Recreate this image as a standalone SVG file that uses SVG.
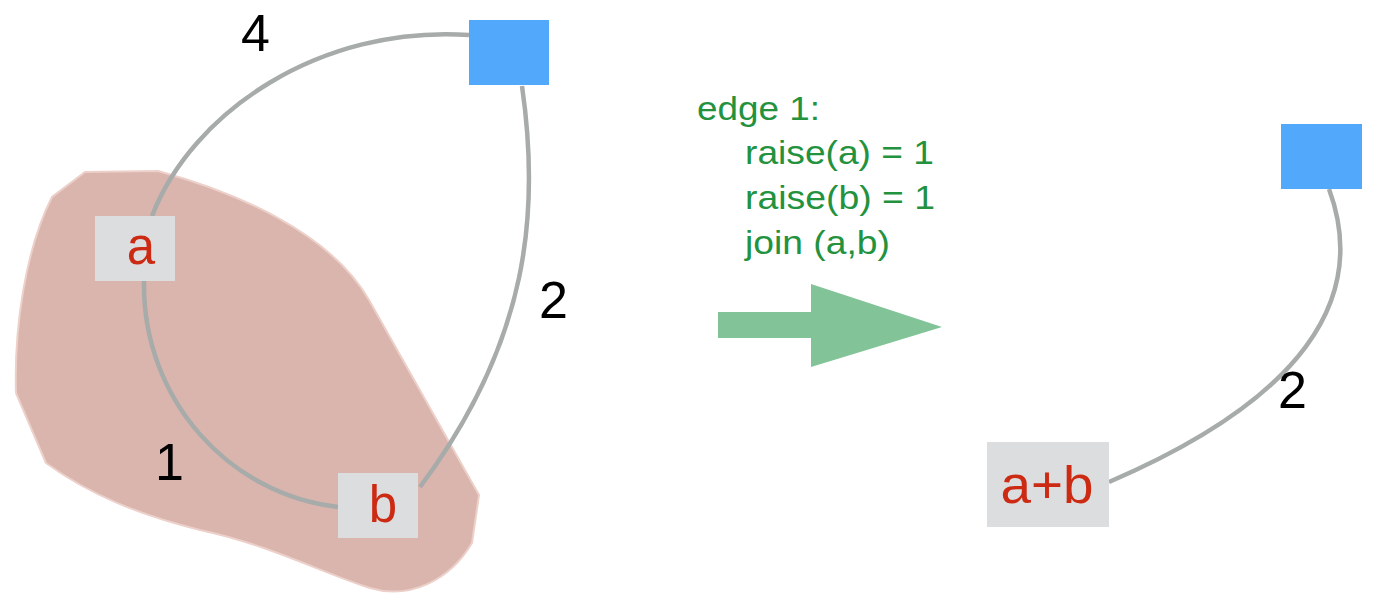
<svg xmlns="http://www.w3.org/2000/svg" width="1375" height="595" viewBox="0 0 1375 595">
<style>
.edge{fill:none;stroke:#a7abaa;stroke-width:4.5;stroke-linecap:butt}
.box{fill:#dcdddf}
.sq{fill:#52a8fa}
.lbl{font-family:"Liberation Sans",Arial,sans-serif;font-size:51px;fill:#cc2a12;text-anchor:middle}
.num{font-family:"Liberation Sans",Arial,sans-serif;font-size:52px;fill:#000}
.code{font-family:"Liberation Sans",Arial,sans-serif;font-size:33px;fill:#23923e}
</style>
<rect width="1375" height="595" fill="#fff"/>
<g id="region">
<path d="M85,172 L158,171 C235,192 330,232 369,300 L479,495 L472,543 C450,580 410,600 370,588 C320,572 270,545 200,530 C140,515 90,495 46,463 L16,393 C14,330 25,250 52,197 Z" fill="#d9b5ad" stroke="#ecd0c9" stroke-width="2"/>
</g>
<g id="connectors">
<path class="edge" d="M152,216 C192,112 320,25 469,35"/>
<path class="edge" d="M144,281 C142,400 230,495 338,507"/>
<path class="edge" d="M522,86 C540,210 530,340 420,487"/>
<path class="edge" d="M1329,189 C1370,300 1300,400 1109,482"/>
</g>
<g id="edge-labels">
<text class="num" x="241" y="51">4</text>
<text class="num" x="539" y="318">2</text>
<text class="num" x="155" y="480">1</text>
<text class="num" x="1278" y="408">2</text>
</g>
<g id="node-a">
<rect class="box" x="95" y="216" width="80" height="65"/>
<text class="lbl" x="141" y="264">a</text>
</g>
<g id="node-b">
<rect class="box" x="338" y="473" width="80" height="65"/>
<text class="lbl" x="383" y="522">b</text>
</g>
<g id="node-sq1">
<rect class="sq" x="469" y="20" width="80" height="65"/>
</g>
<g id="node-sq2">
<rect class="sq" x="1281" y="124" width="81" height="65"/>
</g>
<g id="node-ab">
<rect class="box" x="987" y="442" width="122" height="85"/>
<text class="lbl" x="1047" y="503" textLength="93" lengthAdjust="spacingAndGlyphs">a+b</text>
</g>
<g id="step-text">
<text class="code" x="697" y="120" textLength="123" lengthAdjust="spacingAndGlyphs">edge 1:</text>
<text class="code" x="745" y="164" textLength="189" lengthAdjust="spacingAndGlyphs">raise(a) = 1</text>
<text class="code" x="745" y="209" textLength="190" lengthAdjust="spacingAndGlyphs">raise(b) = 1</text>
<text class="code" x="745" y="254" textLength="145" lengthAdjust="spacingAndGlyphs">join (a,b)</text>
</g>
<g id="big-arrow">
<path d="M718,312 L811,312 L811,284 L942,327 L811,367 L811,338 L718,338 Z" fill="#82c498"/>
</g>
</svg>
